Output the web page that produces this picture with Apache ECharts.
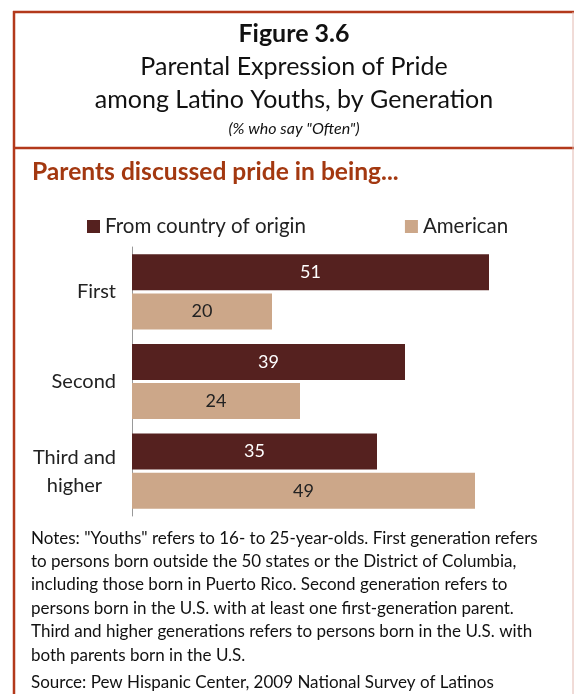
<!DOCTYPE html>
<html><head><meta charset="utf-8">
<script src="https://cdn.jsdelivr.net/npm/echarts@6/dist/echarts.min.js"></script>
<style>html,body{margin:0;padding:0;background:#fff}#c{width:574px;height:694px}</style>
</head><body><div id="c"></div>
<script>
var categories = ['First', 'Second', 'Third and\nhigher'];
var seriesNames = ['From country of origin', 'American'];
var originValues = [51, 39, 35];
var americanValues = [20, 24, 49];
var titleLines = ['Parental Expression of Pride', 'among Latino Youths, by Generation'];
var noteLines = [
  'Notes: "Youths" refers to 16- to 25-year-olds. First generation refers',
  'to persons born outside the 50 states or the District of Columbia,',
  'including those born in Puerto Rico. Second generation refers to',
  'persons born in the U.S. with at least one first-generation parent.',
  'Third and higher generations refers to persons born in the U.S. with',
  'both parents born in the U.S.'
];
var sourceLine = 'Source: Pew Hispanic Center, 2009 National Survey of Latinos';
var FONT = 'Lato';
var chart = echarts.init(document.getElementById('c'), null, {renderer: 'canvas'});
var border = '#b3391b';
chart.setOption({
  backgroundColor: '#fff',
  animation: false,
  textStyle: {fontFamily: FONT},
  graphic: [
    {type: 'line', shape: {x1: 13, y1: 12, x2: 574, y2: 12}, style: {stroke: border, lineWidth: 2.5}},
    {type: 'line', shape: {x1: 14, y1: 11, x2: 14, y2: 694}, style: {stroke: border, lineWidth: 2.5}},
    {type: 'line', shape: {x1: 13, y1: 148, x2: 574, y2: 148}, style: {stroke: border, lineWidth: 2.5}},
    {type: 'line', shape: {x1: 573, y1: 12, x2: 573, y2: 694}, style: {stroke: '#e2b8b0', lineWidth: 1}},
    {type: 'text', style: {x: 294, y: 34, text: 'Figure 3.6', font: 'bold 25px ' + FONT, fill: '#111', align: 'center', verticalAlign: 'middle'}},
    {type: 'text', style: {x: 294, y: 67, text: titleLines[0], font: '25px ' + FONT, fill: '#111', align: 'center', verticalAlign: 'middle'}},
    {type: 'text', style: {x: 294, y: 100, text: titleLines[1], font: '25px ' + FONT, fill: '#111', align: 'center', verticalAlign: 'middle'}},
    {type: 'text', style: {x: 294, y: 129, text: '(% who say "Often")', font: 'italic 16px ' + FONT, fill: '#111', align: 'center', verticalAlign: 'middle'}},
    {type: 'text', style: {x: 32, y: 172, text: 'Parents discussed pride in being...', font: 'bold 24.6px ' + FONT, fill: '#a33810', align: 'left', verticalAlign: 'middle'}},
    {type: 'text', style: {x: 31, y: 526.5, text: noteLines.join('\n'), font: '17px ' + FONT, fill: '#111', lineHeight: 23.4, align: 'left', verticalAlign: 'top'}},
    {type: 'text', style: {x: 31, y: 683, text: sourceLine, font: '17px ' + FONT, fill: '#111', align: 'left', verticalAlign: 'middle'}}
  ],
  legend: {
    left: 82, top: 211, itemWidth: 13, itemHeight: 13, icon: 'rect', itemGap: 99,
    textStyle: {fontSize: 20.5, color: '#222', fontFamily: FONT},
    data: seriesNames
  },
  grid: {left: 132, top: 247, width: 420, height: 269, containLabel: false},
  xAxis: {type: 'value', min: 0, max: 60, show: false},
  yAxis: {
    type: 'category', data: categories, inverse: true,
    axisLine: {show: true, lineStyle: {color: '#999', width: 1}},
    axisTick: {show: false},
    axisLabel: {
      fontSize: 20, color: '#222', margin: 16, fontFamily: FONT, lineHeight: 28,
      formatter: function (v) { return '{c|' + v + '}'; },
      rich: {c: {align: 'center', fontSize: 20, color: '#222', lineHeight: 28, fontFamily: FONT}}
    }
  },
  series: [
    {name: seriesNames[0], type: 'bar', data: originValues, barWidth: 36, barGap: '9%',
     itemStyle: {color: '#55211f'},
     label: {show: true, position: 'inside', color: '#fff', fontSize: 18, fontFamily: FONT}},
    {name: seriesNames[1], type: 'bar', data: americanValues, barWidth: 36, barGap: '9%',
     itemStyle: {color: '#cca789'},
     label: {show: true, position: 'inside', color: '#222', fontSize: 18, fontFamily: FONT}}
  ]
});
</script></body></html>
